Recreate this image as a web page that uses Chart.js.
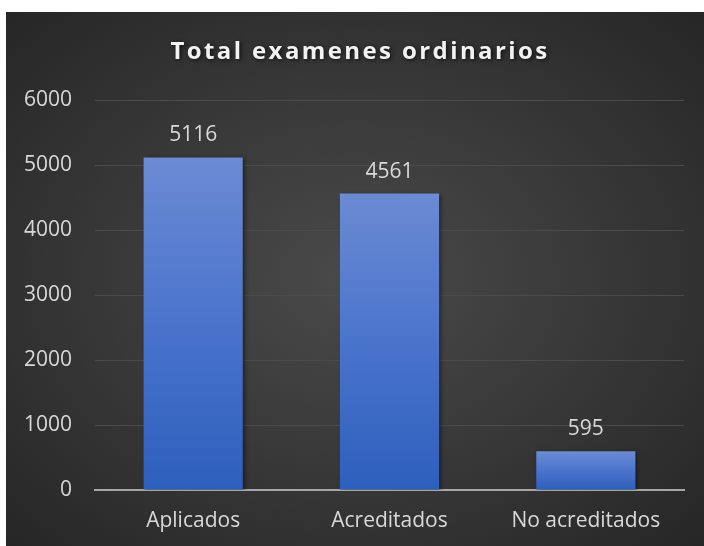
<!DOCTYPE html>
<html>
<head>
<meta charset="utf-8">
<script src="https://cdn.jsdelivr.net/npm/chart.js@4/dist/chart.umd.min.js"></script>
<style>
  html, body { margin: 0; padding: 0; background: #ffffff; width: 704px; height: 546px; overflow: hidden; }
  #wrap { position: absolute; left: 6px; top: 12px; width: 698px; height: 534px;
    background: radial-gradient(ellipse at 50% 50%, #4a4a4a 0%, #3a3a3a 45%, #262626 100%); }
  canvas { display: block; }
</style>
</head>
<body>
<div id="wrap"><canvas id="c" width="698" height="534"></canvas></div>
<script>
const chartTitle = "Total examenes ordinarios";
const categories = ["Aplicados", "Acreditados", "No acreditados"];
const values = [5116, 4561, 595];
const yTicks = [0, 1000, 2000, 3000, 4000, 5000, 6000];

const FONT = "'Open Sans', 'Liberation Sans', sans-serif";

const titlePlugin = {
  id: 'titleDraw',
  afterDraw(chart) {
    const ctx = chart.ctx;
    ctx.save();
    ctx.font = "bold 24px " + FONT;
    try { ctx.letterSpacing = "2.4px"; } catch (e) {}
    ctx.textAlign = "center";
    ctx.textBaseline = "middle";
    ctx.shadowColor = "rgba(0,0,0,0.75)";
    ctx.shadowBlur = 4;
    ctx.shadowOffsetX = 1.5;
    ctx.shadowOffsetY = 1.5;
    ctx.fillStyle = "#f2f2f2";
    ctx.fillText(chartTitle, 354, 40);
    ctx.restore();
  }
};

const shadowPlugin = {
  id: 'barShadow',
  beforeDatasetsDraw(chart) {
    const ctx = chart.ctx;
    ctx.save();
    ctx.shadowColor = "rgba(0,0,0,0.45)";
    ctx.shadowBlur = 4;
    ctx.shadowOffsetX = 2;
    ctx.shadowOffsetY = 1;
  },
  afterDatasetsDraw(chart) {
    chart.ctx.restore();
    const ctx = chart.ctx;
    ctx.save();
    ctx.font = "21px " + FONT;
    ctx.fillStyle = "#d9d9d9";
    ctx.textAlign = "center";
    ctx.textBaseline = "middle";
    const meta = chart.getDatasetMeta(0);
    meta.data.forEach((el, i) => {
      ctx.fillText(String(values[i]), el.x, el.y - 22);
    });
    ctx.restore();
  }
};

new Chart(document.getElementById('c'), {
  type: 'bar',
  data: {
    labels: categories,
    datasets: [{
      data: values,
      backgroundColor(context) {
        const chart = context.chart;
        const area = chart.chartArea;
        if (!area) return '#4472c4';
        const yScale = chart.scales.y;
        const top = yScale.getPixelForValue(context.raw);
        const bottom = yScale.getPixelForValue(0);
        const g = chart.ctx.createLinearGradient(0, top, 0, bottom);
        g.addColorStop(0, '#6b8bd3');
        g.addColorStop(0.5, '#4a74cc');
        g.addColorStop(1, '#2d5fbd');
        return g;
      },
      borderWidth: 0,
      barPercentage: 0.505,
      categoryPercentage: 1.0
    }]
  },
  options: {
    responsive: false,
    animation: false,
    devicePixelRatio: 1,
    layout: { padding: { top: 88, right: 20, left: 0, bottom: 0 } },
    plugins: { legend: { display: false }, title: { display: false }, tooltip: { enabled: false } },
    scales: {
      x: {
        grid: { display: false, drawTicks: false },
        border: { display: true, color: '#a6a6a6', width: 2 },
        ticks: { color: '#d9d9d9', font: { family: FONT, size: 21 }, padding: 18 },
        afterFit(scale) { scale.height = 56; }
      },
      y: {
        min: 0, max: 6000,
        afterBuildTicks(scale) { scale.ticks = yTicks.map(v => ({ value: v })); },
        grid: { color: '#4b4b4b', lineWidth: 1, drawTicks: false },
        border: { display: false },
        ticks: { color: '#d9d9d9', font: { family: FONT, size: 21 }, padding: 23,
                 callback: (v) => String(v) },
        afterFit(scale) { scale.width = 89; }
      }
    }
  },
  plugins: [shadowPlugin, titlePlugin]
});
</script>
</body>
</html>
